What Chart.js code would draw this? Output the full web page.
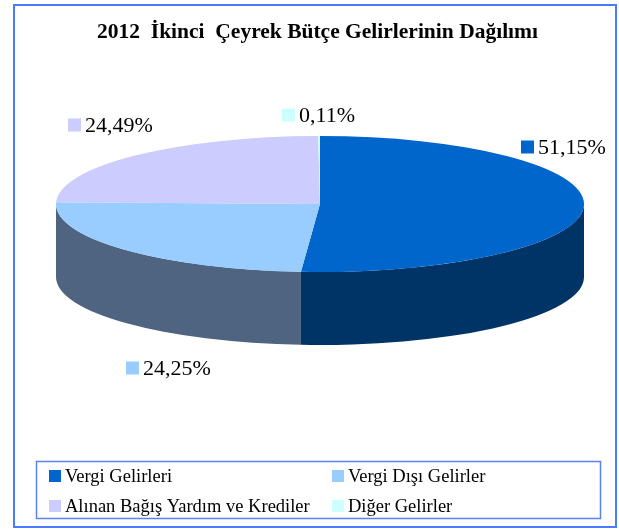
<!DOCTYPE html>
<html>
<head>
<meta charset="utf-8">
<script src="https://cdn.jsdelivr.net/npm/chart.js@4"></script>
<style>
  html, body { margin: 0; padding: 0; background: #fff; }
  #wrap { width: 619px; height: 529px; position: relative; }
</style>
</head>
<body>
<div id="wrap"><canvas id="pie"></canvas></div>
<script>
// data
const titleText = '2012  İkinci  Çeyrek Bütçe Gelirlerinin Dağılımı';
const categories = ['Vergi Gelirleri', 'Vergi Dışı Gelirler', 'Alınan Bağış Yardım ve Krediler', 'Diğer Gelirler'];
const shares = [51.15, 24.25, 24.49, 0.11];

const topColors = ['#0066CC', '#99CCFF', '#CCCCFF', '#CCFFFF'];
const sideColors = ['#003366', '#4F6480', '#66667F', '#668080'];

// where the flattened pie sits on the page
const CX = 320, CY = 204, RX = 264, RY = 68, DEPTH = 73;
// value label spots, relative to the pie centre (marker left, text middle)
const labelSpots = [[201, -57], [-194, 164], [-252, -79], [-38, -89]];

const serif = '"Liberation Serif", "Times New Roman", serif';
const fmt = v => v.toFixed(2).replace('.', ',') + '%';

const pie3d = {
  id: 'pie3d',
  beforeDraw(chart) {
    const ctx = chart.ctx;
    ctx.save();
    ctx.strokeStyle = '#4A7BFF';
    ctx.lineWidth = 2;
    ctx.strokeRect(14, 5, 602, 522);
    ctx.restore();
  },
  beforeDatasetsDraw(chart) {
    const ctx = chart.ctx;
    const arcs = chart.getDatasetMeta(0).data;
    if (!arcs.length) return false;
    const ref = arcs[0];
    ctx.save();
    // front walls
    arcs.forEach((arc, i) => {
      const s = Math.max(arc.startAngle, 0);
      const e = Math.min(arc.endAngle, Math.PI);
      if (e <= s) return;
      ctx.beginPath();
      ctx.ellipse(CX, CY, RX, RY, 0, s, e);
      ctx.ellipse(CX, CY + DEPTH, RX, RY, 0, e, s, true);
      ctx.closePath();
      ctx.fillStyle = sideColors[i];
      ctx.fill();
    });
    // top face: the library's own arcs, squashed into an ellipse
    ctx.translate(CX, CY);
    ctx.scale(RX / ref.outerRadius, RY / ref.outerRadius);
    ctx.translate(-ref.x, -ref.y);
    arcs.forEach(arc => arc.draw(ctx));
    ctx.restore();
    return false;
  },
  afterDraw(chart) {
    const ctx = chart.ctx;
    const ds = chart.data.datasets[0];
    ctx.save();
    // value labels
    ctx.font = '22px ' + serif;
    ctx.textBaseline = 'middle';
    ds.data.forEach((v, i) => {
      const x = CX + labelSpots[i][0], y = CY + labelSpots[i][1];
      ctx.fillStyle = topColors[i];
      ctx.fillRect(x, y - 6.5, 13, 13);
      ctx.fillStyle = '#000';
      ctx.fillText(fmt(v), x + 17, y + 1);
    });
    // legend box
    ctx.strokeStyle = '#5A82F0';
    ctx.lineWidth = 1.5;
    ctx.strokeRect(36.5, 461.5, 564, 57);
    ctx.font = '18.5px ' + serif;
    chart.data.labels.forEach((lab, i) => {
      const col = i % 2, row = Math.floor(i / 2);
      const x = col ? 332 : 49, y = row ? 506 : 476;
      ctx.fillStyle = topColors[i];
      ctx.fillRect(x, y - 6, 12, 12);
      ctx.fillStyle = '#000';
      ctx.fillText(lab, x + 16, y + 1);
    });
    ctx.restore();
  }
};

new Chart(document.getElementById('pie'), {
  type: 'pie',
  data: {
    labels: categories,
    datasets: [{
      data: shares,
      backgroundColor: topColors,
      borderWidth: 0
    }]
  },
  options: {
    responsive: true,
    maintainAspectRatio: false,
    animation: false,
    layout: { padding: { left: 16, right: 0, top: 0, bottom: 80 } },
    plugins: {
      title: {
        display: true,
        text: titleText,
        color: '#000',
        font: { family: serif, size: 21.5, weight: 'bold' },
        padding: { top: 20, bottom: 10 }
      },
      legend: { display: false },
      tooltip: { enabled: false }
    }
  },
  plugins: [pie3d]
});
</script>
</body>
</html>
